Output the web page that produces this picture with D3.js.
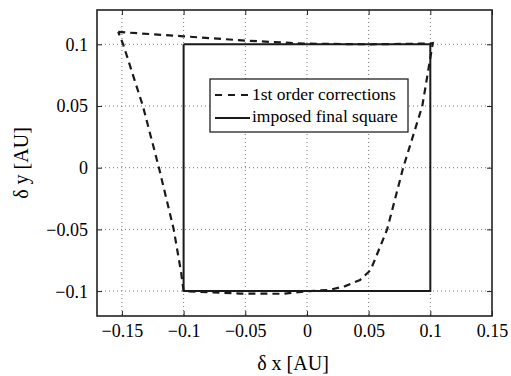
<!DOCTYPE html>
<html><head><meta charset="utf-8">
<script src="https://cdn.jsdelivr.net/npm/d3@7"></script>
<style>body{margin:0;background:#fff}svg{display:block}</style>
</head><body><svg id="c" width="511" height="376"></svg>
<script>
const xTicks = [-0.15, -0.1, -0.05, 0, 0.05, 0.1, 0.15];
const yTicks = [-0.1, -0.05, 0, 0.05, 0.1];
const seriesNames = ["1st order corrections", "imposed final square"];
// dashed: 1st order corrections (closed loop)
const corrX = [-0.153, -0.1, -0.05, 0, 0.05, 0.1, 0.102, 0.0935, 0.078, 0.065, 0.0516, 0.043, 0.031, 0.0186, 0.0024, -0.02, -0.054, -0.076, -0.1, -0.102, -0.108, -0.12, -0.133, -0.149, -0.153];
const corrY = [0.11, 0.1065, 0.103, 0.1005, 0.1, 0.1006, 0.101, 0.05, 0.0, -0.05, -0.083, -0.091, -0.096, -0.099, -0.1, -0.1022, -0.102, -0.101, -0.1, -0.085, -0.05, 0.0, 0.05, 0.1, 0.11];
// solid: imposed final square
const sqX = [-0.1, 0.1, 0.1, -0.1, -0.1];
const sqY = [0.1, 0.1, -0.1, -0.1, 0.1];

const FONT = "'Liberation Serif', 'DejaVu Serif', serif";
const svg = d3.select("#c");
const L = 97, R = 492, T = 10, B = 316;
const x = d3.scaleLinear().domain([-0.1702, 0.15]).range([L, R]);
const y = d3.scaleLinear().domain([-0.1202, 0.1278]).range([B, T]);
const fmt = v => (v < 0 ? "\u2212" : "") + String(Math.abs(+v.toFixed(2)));

// grid
const g = svg.append("g");
g.selectAll(".gx").data(xTicks.filter(t => t > -0.17 && t < 0.149)).enter().append("line")
  .attr("x1", d => x(d)).attr("x2", d => x(d)).attr("y1", T).attr("y2", B)
  .attr("stroke", "#666").attr("stroke-width", 0.9).attr("stroke-dasharray", "1,3");
g.selectAll(".gy").data(yTicks).enter().append("line")
  .attr("y1", d => y(d)).attr("y2", d => y(d)).attr("x1", L).attr("x2", R)
  .attr("stroke", "#666").attr("stroke-width", 0.9).attr("stroke-dasharray", "1,3");

// axes (inner ticks)
const ax = d3.axisBottom(x).tickValues(xTicks).tickSize(-5).tickFormat(fmt);
const ay = d3.axisLeft(y).tickValues(yTicks).tickSize(-5).tickPadding(9).tickFormat(fmt);
const gx = svg.append("g").attr("transform", `translate(0,${B})`).call(ax);
const gy = svg.append("g").attr("transform", `translate(${L},0)`).call(ay);
const gxt = svg.append("g").attr("transform", `translate(0,${T})`).call(d3.axisTop(x).tickValues(xTicks).tickSize(-5).tickFormat(""));
const gyr = svg.append("g").attr("transform", `translate(${R},0)`).call(d3.axisRight(y).tickValues(yTicks).tickSize(-5).tickFormat(""));
[gx, gy, gxt, gyr].forEach(a => {
  a.attr("font-family", FONT).attr("font-size", 18);
  a.select(".domain").remove();
  a.selectAll("line").attr("stroke", "#222");
  a.selectAll("text").attr("fill", "#000").style("font-family", FONT).style("font-size", "18px");
});
gx.selectAll("text").attr("y", 21).attr("dy", 0);
gy.selectAll("text").attr("x", -9).attr("dy", "0.33em");

svg.append("rect").attr("x", L).attr("y", T).attr("width", R - L).attr("height", B - T)
  .attr("fill", "none").attr("stroke", "#222").attr("stroke-width", 1.6);

// lines
const line = d3.line().x(d => x(d[0])).y(d => y(d[1]));
svg.append("path").datum(sqX.map((v, i) => [v, sqY[i]])).attr("d", line)
  .attr("fill", "none").attr("stroke", "#1a1a1a").attr("stroke-width", 2);
svg.append("path").datum(corrX.map((v, i) => [v, corrY[i]])).attr("d", line)
  .attr("fill", "none").attr("stroke", "#1a1a1a").attr("stroke-width", 2.2).attr("stroke-dasharray", "7,5");

// legend
const lg = svg.append("g");
lg.append("rect").attr("x", 210).attr("y", 79).attr("width", 198).attr("height", 53)
  .attr("fill", "#fff").attr("stroke", "#222").attr("stroke-width", 1.3);
lg.append("line").attr("x1", 215).attr("x2", 250).attr("y1", 95).attr("y2", 95)
  .attr("stroke", "#1a1a1a").attr("stroke-width", 2).attr("stroke-dasharray", "7,6");
lg.append("line").attr("x1", 215).attr("x2", 250).attr("y1", 118).attr("y2", 118)
  .attr("stroke", "#1a1a1a").attr("stroke-width", 2);
lg.selectAll("text").data(seriesNames).enter().append("text")
  .attr("x", 252).attr("y", (d, i) => 100 + i * 22)
  .style("font-family", FONT).style("font-size", "17.5px").attr("fill", "#000").text(d => d);

// axis labels
svg.append("text").attr("x", 293).attr("y", 370).attr("text-anchor", "middle")
  .style("font-family", FONT).style("font-size", "20px").text("\u03b4 x [AU]");
svg.append("text").attr("transform", "translate(28,163) rotate(-90)").attr("text-anchor", "middle")
  .style("font-family", FONT).style("font-size", "20px").text("\u03b4 y [AU]");
</script></body></html>
